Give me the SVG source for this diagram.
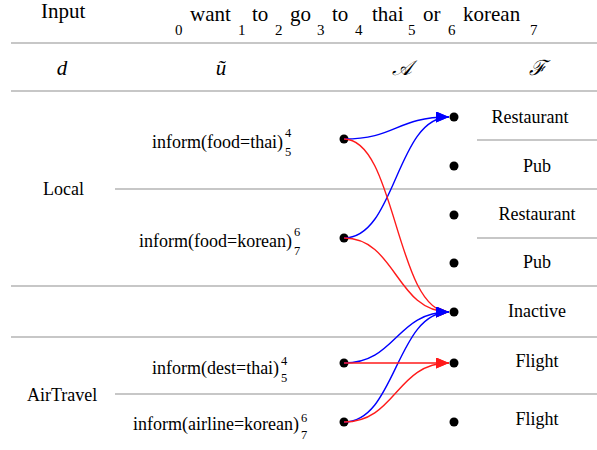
<svg xmlns="http://www.w3.org/2000/svg" width="597" height="450" viewBox="0 0 597 450" font-family="'Liberation Serif', 'DejaVu Serif', serif">
<style>
text{font-family:'Liberation Serif','DejaVu Serif',serif;fill:#000}
.h{font-size:21px}
.d{font-size:15px}
.t{font-size:18px}
.s{font-size:12.5px}
.m{font-size:21px;font-style:italic}
.r{font-size:18px;text-anchor:middle}
.rule{stroke:#b4b4b4;stroke-width:1.5;fill:none}
.b{stroke:#0000ff;stroke-width:1.4;fill:none;marker-end:url(#ab)}
.rd{stroke:#ff1a1a;stroke-width:1.4;fill:none;marker-end:url(#ar)}
circle{fill:#000}
</style>
<defs>
<marker id="ab" markerUnits="userSpaceOnUse" markerWidth="14" markerHeight="12" refX="13" refY="5.5" orient="auto"><path d="M0,0 L13,5.5 L0,11 z" fill="#0000ff"/></marker>
<marker id="ar" markerUnits="userSpaceOnUse" markerWidth="14" markerHeight="12" refX="13" refY="5.5" orient="auto"><path d="M0,0 L13,5.5 L0,11 z" fill="#ff1a1a"/></marker>
</defs>
<g id="rules">
<line class="rule" x1="11" y1="43" x2="597" y2="43"/>
<line class="rule" x1="11" y1="91" x2="597" y2="91"/>
<line class="rule" x1="477" y1="140" x2="597" y2="140"/>
<line class="rule" x1="115" y1="189" x2="597" y2="189"/>
<line class="rule" x1="477" y1="238" x2="597" y2="238"/>
<line class="rule" x1="11" y1="286" x2="597" y2="286"/>
<line class="rule" x1="11" y1="337" x2="597" y2="337"/>
<line class="rule" x1="115" y1="394" x2="597" y2="394"/>
</g>
<g id="header">
<text class="h" x="41" y="18">Input</text>
<text class="d" x="175" y="35">0</text><text class="h" x="190" y="21">want</text>
<text class="d" x="238" y="35">1</text><text class="h" x="252" y="21">to</text>
<text class="d" x="275" y="35">2</text><text class="h" x="290" y="21">go</text>
<text class="d" x="317" y="35">3</text><text class="h" x="332" y="21">to</text>
<text class="d" x="355" y="35">4</text><text class="h" x="372" y="21">thai</text>
<text class="d" x="408" y="35">5</text><text class="h" x="423" y="21">or</text>
<text class="d" x="448" y="35">6</text><text class="h" x="463" y="21">korean</text>
<text class="d" x="530" y="35">7</text>
<text class="m" x="62" y="75" text-anchor="middle">d</text>
<text class="m" x="221" y="75" text-anchor="middle">ũ</text>
<text class="m" x="402" y="75" text-anchor="middle">𝒜</text>
<text class="m" x="537" y="75" text-anchor="middle">ℱ</text>
</g>
<g id="domain-local"><text class="t" x="43" y="195">Local</text></g>
<g id="domain-airtravel"><text class="t" x="27" y="401">AirTravel</text></g>
<g id="act-food-thai">
<text class="t" x="152" y="148">inform(food=thai)</text>
<text class="s" x="285" y="137">4</text><text class="s" x="285" y="156">5</text>
<circle cx="344" cy="139" r="4.5"/>
</g>
<g id="act-food-korean">
<text class="t" x="139" y="247">inform(food=korean)</text>
<text class="s" x="294" y="236">6</text><text class="s" x="294" y="255">7</text>
<circle cx="344" cy="238" r="4.5"/>
</g>
<g id="act-dest-thai">
<text class="t" x="152" y="374">inform(dest=thai)</text>
<text class="s" x="281" y="365">4</text><text class="s" x="281" y="382">5</text>
<circle cx="344" cy="363" r="4.5"/>
</g>
<g id="act-airline-korean">
<text class="t" x="133" y="430">inform(airline=korean)</text>
<text class="s" x="301" y="422">6</text><text class="s" x="301" y="439">7</text>
<circle cx="344" cy="422" r="4.5"/>
</g>
<g id="slot-restaurant-1"><circle cx="454" cy="117" r="4.5"/><text class="r" x="530" y="123">Restaurant</text></g>
<g id="slot-pub-1"><circle cx="454" cy="166" r="4.5"/><text class="r" x="537" y="172">Pub</text></g>
<g id="slot-restaurant-2"><circle cx="454" cy="215" r="4.5"/><text class="r" x="537" y="220">Restaurant</text></g>
<g id="slot-pub-2"><circle cx="454" cy="263" r="4.5"/><text class="r" x="537" y="268">Pub</text></g>
<g id="slot-inactive"><circle cx="454" cy="312" r="4.5"/><text class="r" x="537" y="317">Inactive</text></g>
<g id="slot-flight-1"><circle cx="454" cy="363" r="4.5"/><text class="r" x="537" y="367">Flight</text></g>
<g id="slot-flight-2"><circle cx="454" cy="422" r="4.5"/><text class="r" x="537" y="425">Flight</text></g>
<g id="connectors">
<path class="b" d="M344,139 C396,139 396,117 449,117"/>
<path class="b" d="M344,238 C396,238 396,117 449,117"/>
<path class="rd" d="M344,139 C396,139 396,312 449,312"/>
<path class="rd" d="M344,238 C396,238 396,312 449,312"/>
<path class="b" d="M344,363 C396,363 396,312 449,312"/>
<path class="b" d="M344,422 C396,422 396,312 449,312"/>
<path class="rd" d="M344,363 L449,363"/>
<path class="rd" d="M344,422 C396,422 396,363 449,363"/>
</g>
</svg>
